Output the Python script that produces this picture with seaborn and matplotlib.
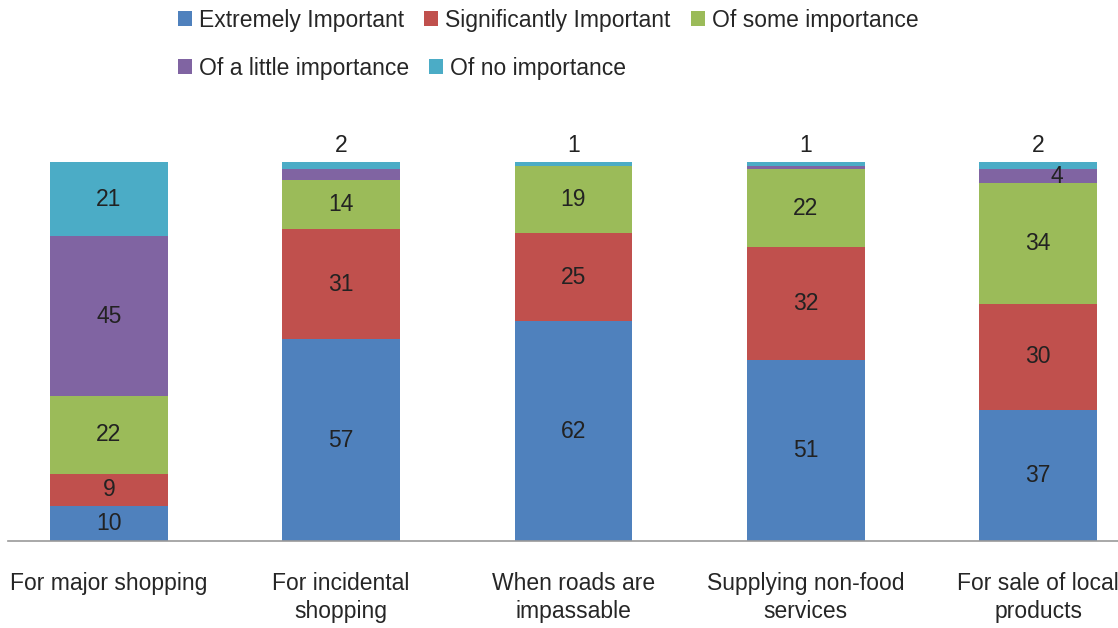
import pandas as pd
import matplotlib.pyplot as plt
import seaborn as sns
from matplotlib.patches import Patch

# data
categories = ["For major shopping", "For incidental\nshopping", "When roads are\nimpassable",
              "Supplying non-food\nservices", "For sale of local\nproducts"]
series = ["Extremely Important", "Significantly Important", "Of some importance",
          "Of a little importance", "Of no importance"]
extremely = [10, 57, 62, 51, 37]
significantly = [9, 31, 25, 32, 30]
some = [22, 14, 19, 22, 34]
little = [45, 3, 0, 1, 4]
no_imp = [21, 2, 1, 1, 2]
colors = ["#4F81BD", "#C0504D", "#9BBB59", "#8064A2", "#4BACC6"]

values = [extremely, significantly, some, little, no_imp]
rows = []
for s, vals in zip(series, values):
    for c, v in zip(categories, vals):
        rows.append({"cat": c, "series": s, "val": v})
df = pd.DataFrame(rows)
totals = df.groupby("cat")["val"].transform("sum")
df["pct"] = df["val"] / totals * 100

sns.set_style("white")
plt.rcParams['font.family'] = ['Liberation Sans', 'DejaVu Sans']

fig = plt.figure(figsize=(11.18, 6.28), dpi=100)
ax = fig.add_axes([8 / 1118, 87 / 628, 1 - 8 / 1118, 379 / 628])

bottom = pd.Series(0.0, index=categories)
for s, col in zip(series, colors):
    sub = df[df["series"] == s].set_index("cat").loc[categories]
    sns.barplot(x=list(range(len(categories))), y=sub["pct"].values, bottom=bottom.values,
                color=col, width=0.507, ax=ax, native_scale=True, saturation=1,
                linewidth=0)
    bottom = bottom + sub["pct"].values

# data labels (label placement as in the original)
fs = 16.5
bottom = pd.Series(0.0, index=categories)
for si, s in enumerate(series):
    sub = df[df["series"] == s].set_index("cat").loc[categories]
    for i, c in enumerate(categories):
        v = sub.loc[c, "val"]
        p = sub.loc[c, "pct"]
        b = bottom[c]
        if si < 3 or (si == 3 and i == 0) or (si == 4 and i == 0):
            ax.text(i, b + p / 2, str(v), ha="center", va="center", fontsize=fs, color="#222222")
        elif si == 3 and i == 4:
            ax.text(i + 0.08, b + p / 2, str(v), ha="center", va="center", fontsize=fs, color="#222222")
        elif si == 4 and i > 0:
            ax.text(i, 100 + 1.2, str(v), ha="center", va="bottom", fontsize=fs, color="#222222")
    bottom = bottom + sub["pct"].values

ax.set_xlim(-0.434, 4.344)
ax.set_ylim(0, 100)
ax.set_xticks(range(len(categories)))
ax.set_xticklabels(categories, fontsize=fs, linespacing=1.3)
ax.tick_params(axis="x", length=0, pad=22)
ax.set_yticks([])
ax.set_xlabel("")
ax.set_ylabel("")
for sp in ["top", "left", "right"]:
    ax.spines[sp].set_visible(False)
ax.spines["bottom"].set_color("#999999")
ax.spines["bottom"].set_linewidth(1.2)

handles = [Patch(facecolor=c, edgecolor="none") for c in colors]
leg_kw = dict(loc="center left", frameon=False, fontsize=fs, handlelength=0.6,
              handleheight=0.6, handletextpad=0.3, columnspacing=0.9,
              borderaxespad=0, borderpad=0)
leg1 = fig.legend(handles[:3], series[:3], ncol=3,
                  bbox_to_anchor=(178 / 1118, 1 - 20 / 628), **leg_kw)
leg2 = fig.legend(handles[3:], series[3:], ncol=2,
                  bbox_to_anchor=(178 / 1118, 1 - 68 / 628), **leg_kw)

fig.savefig("out.png", dpi=100)
